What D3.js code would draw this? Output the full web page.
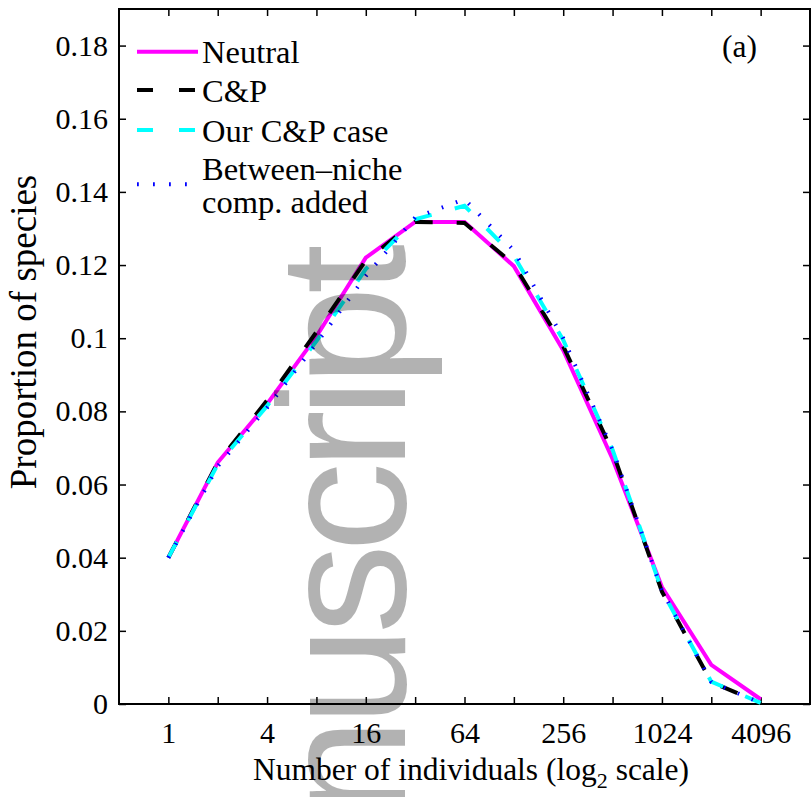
<!DOCTYPE html>
<html>
<head>
<meta charset="utf-8">
<script src="https://cdn.jsdelivr.net/npm/d3@7/dist/d3.min.js"></script>
<style>
  body { margin: 0; background: #fff; }
  svg { display: block; }
  text { font-family: "Liberation Serif", "Times New Roman", serif; }
</style>
</head>
<body>
<script>
var w = 812, h = 797;

// abundance classes (log2 bins), x values
var sizes = [1, 2, 4, 8, 16, 32, 64, 128, 256, 512, 1024, 2048, 4096];
var xLabels = [1, 4, 16, 64, 256, 1024, 4096];
var yTicks = [0, 0.02, 0.04, 0.06, 0.08, 0.1, 0.12, 0.14, 0.16, 0.18];

var neutral   = [0.040, 0.066, 0.082, 0.1005, 0.122, 0.1318, 0.1318, 0.1197, 0.0967, 0.067, 0.032, 0.0107, 0.0013];
var cp        = [0.040, 0.066, 0.083, 0.1017, 0.1213, 0.1318, 0.1315, 0.1202, 0.0978, 0.069, 0.0307, 0.0060, 0.0003];
var ourCp     = [0.040, 0.0655, 0.0815, 0.0992, 0.1189, 0.1325, 0.1362, 0.1225, 0.0995, 0.0695, 0.031, 0.0061, 0.0003];
var between   = [0.040, 0.065, 0.081, 0.0986, 0.117, 0.133, 0.138, 0.124, 0.100, 0.0695, 0.031, 0.0060, 0.0003];

var series = [
  {name: "Neutral", values: neutral, color: "#ff00ff", width: 4, dash: null, legDash: null},
  {name: "C&P", values: cp, color: "#000000", width: 4, dash: "18,24", legDash: "16,26"},
  {name: "Our C&P case", values: ourCp, color: "#00ffff", width: 4, dash: "18,24", legDash: "16,26"},
  {name: "Between\u2013niche", name2: "comp. added", values: between, color: "#0000ff", width: 4, dash: "1.6,13.4", legDash: "1.8,14.2"}
];

var pl = 119, pr = 810, pt = 9, pb = 704;

var x = d3.scaleLog().base(2).domain([0.5, 8192]).range([pl, pr]);
var y = d3.scaleLinear().domain([0, 0.19]).range([pb, pt]);

var svg = d3.select("body").append("svg")
  .attr("width", w)
  .attr("height", h);

// axes, ticks pointing inward
var xAxis = d3.axisBottom(x).tickValues(sizes).tickSize(-7).tickSizeOuter(0).tickPadding(18)
  .tickFormat(function(d){ return xLabels.indexOf(d) >= 0 ? d : ""; });
var gx = svg.append("g").attr("transform", "translate(0," + pb + ")").call(xAxis);

var xTop = d3.axisTop(x).tickValues(sizes).tickSize(-7).tickSizeOuter(0).tickFormat("");
var gxt = svg.append("g").attr("transform", "translate(0," + pt + ")").call(xTop);

var yAxis = d3.axisLeft(y).tickValues(yTicks).tickSize(-7).tickSizeOuter(0).tickPadding(11)
  .tickFormat(function(d){ return String(d); });
var gy = svg.append("g").attr("transform", "translate(" + pl + ",0)").call(yAxis);

var yRight = d3.axisRight(y).tickValues(yTicks).tickSize(-7).tickSizeOuter(0).tickFormat("");
var gyr = svg.append("g").attr("transform", "translate(" + pr + ",0)").call(yRight);

[gx, gxt, gy, gyr].forEach(function(g){
  g.select(".domain").remove();
  g.selectAll(".tick line").attr("stroke", "#000").attr("stroke-width", 1.5);
  g.selectAll(".tick text")
    .attr("fill", "#000")
    .style("font-family", "'Liberation Serif', 'Times New Roman', serif")
    .style("font-size", "30px");
});

svg.append("rect")
  .attr("x", pl).attr("y", pt)
  .attr("width", pr - pl).attr("height", pb - pt)
  .attr("fill", "none").attr("stroke", "#000").attr("stroke-width", 2);

// curves
var line = d3.line()
  .x(function(d, i){ return x(sizes[i]); })
  .y(function(d){ return y(d); });

svg.selectAll("path.curve")
  .data(series)
  .enter()
  .append("path")
  .attr("class", "curve")
  .attr("d", function(d){ return line(d.values); })
  .attr("fill", "none")
  .attr("stroke", function(d){ return d.color; })
  .attr("stroke-width", function(d){ return d.width; })
  .attr("stroke-dasharray", function(d){ return d.dash; });

// legend
var legY = [51.7, 90, 130, 184.3];
var legText = [63.3, 101.7, 141.7, 180];
var leg = svg.append("g");
leg.selectAll("line")
  .data(series)
  .enter()
  .append("line")
  .attr("x1", 137).attr("x2", 198)
  .attr("y1", function(d, i){ return legY[i]; })
  .attr("y2", function(d, i){ return legY[i]; })
  .attr("stroke", function(d){ return d.color; })
  .attr("stroke-width", function(d){ return d.width; })
  .attr("stroke-dasharray", function(d){ return d.legDash; });

leg.selectAll("text")
  .data(series)
  .enter()
  .append("text")
  .attr("x", 202)
  .attr("y", function(d, i){ return legText[i]; })
  .attr("font-size", "32.5px")
  .text(function(d){ return d.name; });

leg.append("text")
  .attr("x", 202).attr("y", 213)
  .attr("font-size", "32.5px")
  .text(series[3].name2);

svg.append("text")
  .attr("x", 722).attr("y", 57)
  .attr("font-size", "31.5px")
  .text("(a)");

// axis labels
var xl = svg.append("text")
  .attr("x", 471).attr("y", 780)
  .attr("text-anchor", "middle")
  .attr("font-size", "31.5px");
xl.append("tspan").text("Number of individuals (log");
xl.append("tspan").attr("font-size", "22px").attr("dy", 8).text("2");
xl.append("tspan").attr("dy", -8).text(" scale)");

svg.append("text")
  .attr("transform", "translate(36,332) rotate(-90)")
  .attr("text-anchor", "middle")
  .attr("font-size", "37px")
  .text("Proportion of species");

// watermark fragment on top
svg.append("text")
  .attr("transform", "translate(405,252) rotate(-90)")
  .attr("text-anchor", "end")
  .attr("fill", "#000")
  .attr("fill-opacity", 0.3)
  .attr("letter-spacing", "-8px")
  .style("font-family", "'Liberation Sans', Arial, sans-serif")
  .style("font-size", "180px")
  .text("nuscript");
</script>
</body>
</html>
